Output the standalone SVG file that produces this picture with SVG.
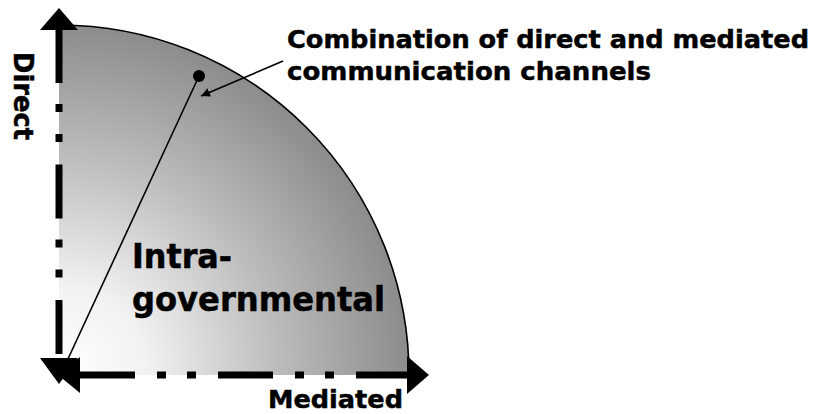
<svg xmlns="http://www.w3.org/2000/svg" width="815" height="414" viewBox="0 0 815 414">
  <style>
    .lbl { font-family: "DejaVu Sans", "Liberation Sans", sans-serif; font-weight: bold; fill: #000; stroke: #000; stroke-width: 0.5; }
    .axis { stroke: #000; stroke-width: 7; fill: none; stroke-linecap: butt; }
    .thin { stroke: #000; stroke-width: 1.6; fill: none; }
    .head { fill: #000; stroke: none; }
  </style>
  <defs>
    <radialGradient id="shade" gradientUnits="userSpaceOnUse" cx="59" cy="375" r="350">
      <stop offset="0" stop-color="#ffffff"/>
      <stop offset="0.25" stop-color="#f2f2f2"/>
      <stop offset="0.62" stop-color="#bdbdbd"/>
      <stop offset="1" stop-color="#8c8c8c"/>
    </radialGradient>
    <marker id="ptr" viewBox="0 0 10 10" refX="10" refY="5" markerWidth="9" markerHeight="9" markerUnits="userSpaceOnUse" orient="auto">
      <path d="M0,0 L10,5 L0,10 Z" fill="#000"/>
    </marker>
  </defs>
  <rect width="815" height="414" fill="#ffffff"/>

  <g id="quadrant">
    <path d="M59,375 L59,25 A350,350 0 0 1 409,375 Z" fill="url(#shade)"/>
    <path d="M59,25 A350,350 0 0 1 409,375" fill="none" stroke="#000" stroke-width="1.6"/>
  </g>

  <g id="connectors">
    <line class="axis" x1="59" y1="29" x2="59" y2="359" stroke-dasharray="54 21 8 22 8 22.5"/>
    <line class="axis" x1="80" y1="375" x2="408" y2="375" stroke-dasharray="55 22 9 21 9 22"/>
    <polygon class="head" points="59,8 78,30 40,30"/>
    <polygon class="head" points="40,358 78,358 59,384"/>
    <polygon class="head" points="80,357 80,393 58,375"/>
    <polygon class="head" points="407,356 407,394 429,375"/>
    <line class="thin" x1="199" y1="76" x2="61" y2="374"/>
    <line class="thin" x1="283" y1="61" x2="201" y2="96" marker-end="url(#ptr)"/>
  </g>

  <g id="point">
    <circle cx="199" cy="76" r="6" fill="#000"/>
  </g>

  <g id="label-combination">
    <text class="lbl" x="287" y="48" font-size="25.5" textLength="522" lengthAdjust="spacingAndGlyphs">Combination of direct and mediated</text>
    <text class="lbl" x="287" y="80" font-size="25.5" textLength="364" lengthAdjust="spacingAndGlyphs">communication channels</text>
  </g>

  <g id="label-intra">
    <text class="lbl" x="132" y="268" font-size="33" textLength="100" lengthAdjust="spacingAndGlyphs">Intra-</text>
    <text class="lbl" x="132" y="311" font-size="33" textLength="253" lengthAdjust="spacingAndGlyphs">governmental</text>
  </g>

  <g id="label-direct">
    <text class="lbl" transform="translate(14,52) rotate(90)" x="0" y="0" font-size="26" textLength="88" lengthAdjust="spacingAndGlyphs">Direct</text>
  </g>

  <g id="label-mediated">
    <text class="lbl" x="268" y="407.5" font-size="25.5" textLength="135" lengthAdjust="spacingAndGlyphs">Mediated</text>
  </g>
</svg>
